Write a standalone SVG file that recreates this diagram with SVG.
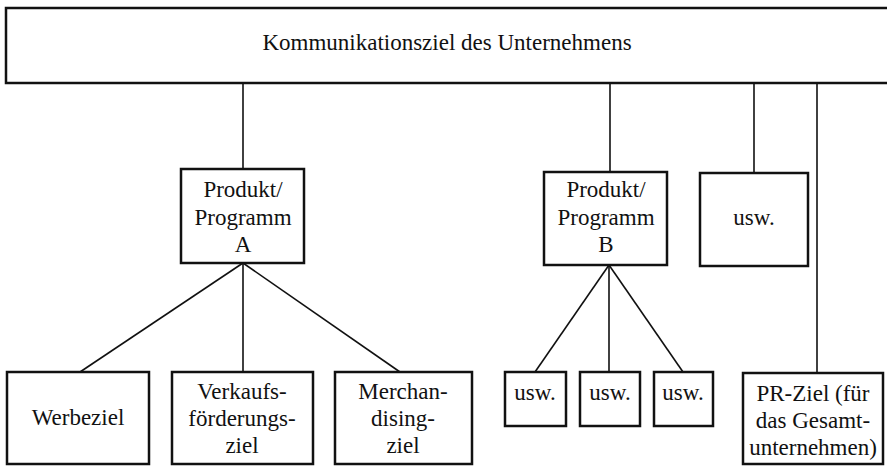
<svg xmlns="http://www.w3.org/2000/svg" width="887" height="466" viewBox="0 0 887 466">
<style>
.box{fill:#fff;stroke:#111;stroke-width:2.5}
.ln{stroke:#111;stroke-width:1.6;fill:none}
text{font-family:"Liberation Serif","Times New Roman",serif;font-size:23px;fill:#111;text-anchor:middle}
</style>
<rect width="887" height="466" fill="#fff"/>
<g id="connectors">
<line class="ln" x1="243" y1="84" x2="243" y2="169"/>
<line class="ln" x1="610" y1="84" x2="610" y2="172"/>
<line class="ln" x1="754" y1="84" x2="754" y2="173"/>
<line class="ln" x1="817" y1="84" x2="817" y2="373"/>
<line class="ln" x1="243" y1="263" x2="80" y2="372"/>
<line class="ln" x1="243" y1="263" x2="243" y2="372"/>
<line class="ln" x1="243" y1="263" x2="400" y2="372"/>
<line class="ln" x1="609" y1="265" x2="535" y2="372"/>
<line class="ln" x1="609" y1="265" x2="609" y2="372"/>
<line class="ln" x1="609" y1="265" x2="683" y2="372"/>
</g>
<g id="top">
<rect class="box" x="6" y="8" width="890" height="75"/>
<text x="447" y="50">Kommunikationsziel des Unternehmens</text>
</g>
<g id="prodA">
<rect class="box" x="181" y="169" width="123" height="94"/>
<text x="243" y="197">Produkt/</text>
<text x="243" y="225">Programm</text>
<text x="243" y="252">A</text>
</g>
<g id="prodB">
<rect class="box" x="544" y="172" width="123" height="93"/>
<text x="606" y="197">Produkt/</text>
<text x="606" y="225">Programm</text>
<text x="606" y="252">B</text>
</g>
<g id="uswTop">
<rect class="box" x="700" y="173" width="108" height="93"/>
<text x="754" y="225">usw.</text>
</g>
<g id="werbeziel">
<rect class="box" x="7" y="372" width="142" height="92"/>
<text x="78" y="425">Werbeziel</text>
</g>
<g id="verkauf">
<rect class="box" x="172" y="372" width="141" height="92"/>
<text x="242" y="399">Verkaufs-</text>
<text x="242" y="426">förderungs-</text>
<text x="242" y="453">ziel</text>
</g>
<g id="merchan">
<rect class="box" x="335" y="372" width="137" height="92"/>
<text x="403" y="399">Merchan-</text>
<text x="403" y="426">dising-</text>
<text x="403" y="453">ziel</text>
</g>
<g id="usw1">
<rect class="box" x="505" y="372" width="61" height="54"/>
<text x="535" y="400">usw.</text>
</g>
<g id="usw2">
<rect class="box" x="580" y="372" width="60" height="54"/>
<text x="610" y="400">usw.</text>
</g>
<g id="usw3">
<rect class="box" x="654" y="372" width="59" height="54"/>
<text x="683" y="400">usw.</text>
</g>
<g id="prziel">
<rect class="box" x="743" y="373" width="140" height="91"/>
<text x="813" y="401">PR-Ziel (für</text>
<text x="813" y="428">das Gesamt-</text>
<text x="813" y="455">unternehmen)</text>
</g>
</svg>
